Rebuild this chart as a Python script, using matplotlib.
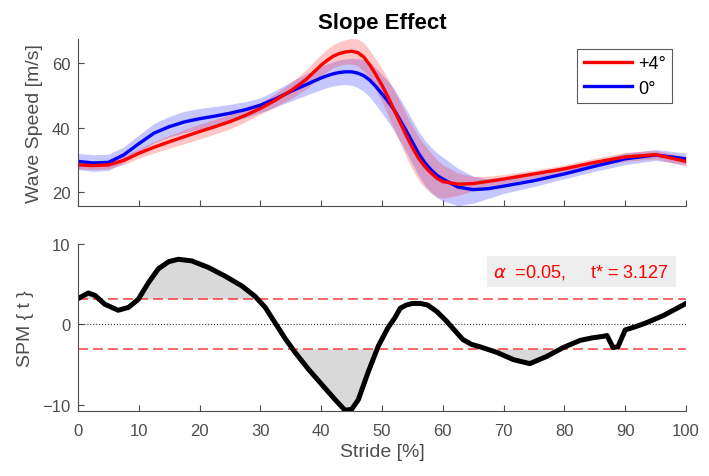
import matplotlib
matplotlib.use("Agg")
import matplotlib.pyplot as plt
import numpy as np

plt.rcParams['font.family'] = ['Liberation Sans', 'DejaVu Sans']

# stride positions (%) for the wave speed curves
stride = [0, 2.5, 5, 7.5, 10, 12.5, 15, 17.5, 20, 22.5, 25, 27.5, 30, 32.5, 35, 37.5,
          40, 41, 42, 43, 44, 45, 46, 47, 48, 49, 50, 51, 52, 53, 54, 55, 56, 57, 58, 59, 60,
          62.5, 65, 67.5, 70, 75, 80, 85, 90, 95, 100]

# +4 deg slope: mean and sd
red_mean = [28.4, 28.2, 28.4, 29.8, 32.0, 33.9, 35.6, 37.2, 38.8, 40.3, 41.9, 43.8, 46.0,
            48.6, 51.5, 55.0,
            59.5, 61.0, 62.3, 63.1, 63.6, 63.8, 63.4, 62.0, 59.5, 56.5, 53.2, 49.5, 45.5,
            41.5, 37.5, 33.8, 30.5, 28.0, 26.0, 24.3, 23.2,
            22.4, 22.6, 23.3, 24.0, 25.6, 27.2, 29.2, 30.9, 31.6, 29.5]
red_sd = [1.3, 1.2, 1.2, 1.3, 1.5, 1.8, 2.0, 2.2, 2.3, 2.3, 2.3, 2.0, 1.8, 2.0, 2.5, 3.0,
          3.4, 3.5, 3.6, 3.7, 3.8, 4.0, 4.2, 4.4, 4.6, 4.8, 5.2, 5.7, 6.1, 6.4, 6.6, 6.8,
          6.8, 6.6, 6.3, 5.8, 5.2,
          3.5, 2.2, 1.6, 1.4, 1.2, 1.2, 1.3, 1.4, 1.3, 1.5]

# 0 deg slope: mean and sd
blue_mean = [29.5, 29.0, 29.2, 31.5, 35.0, 38.3, 40.3, 41.8, 42.8, 43.6, 44.5, 45.6, 47.0,
             49.0, 51.3, 53.4,
             55.5, 56.2, 56.8, 57.2, 57.4, 57.4, 57.0, 56.2, 54.8, 52.8, 50.5, 48.2, 45.5,
             42.3, 39.0, 35.5, 32.0, 29.2, 27.0, 25.2, 24.0,
             21.5, 20.7, 21.0, 21.8, 23.5, 25.6, 28.0, 30.3, 31.5, 30.3]
blue_sd = [2.5, 2.6, 2.5, 2.5, 2.7, 3.0, 3.2, 3.3, 3.2, 3.0, 2.8, 2.5, 2.3, 2.6, 3.0, 3.3,
           3.6, 3.7, 3.8, 3.9, 4.0, 4.2, 4.5, 4.9, 5.3, 5.7, 6.0, 6.3, 6.5, 6.6, 6.7, 6.8,
           6.9, 7.0, 7.0, 7.0, 6.8,
           5.8, 4.2, 3.0, 2.3, 1.8, 1.5, 1.6, 1.8, 1.7, 1.8]

# SPM {t} trajectory
spm_x = [0, 1.7, 2.8, 4.4, 6.6, 8.3, 9.9, 11.6, 13.2, 14.9, 16.5, 18.7, 21.4, 24.2, 26.9,
         29.1, 30.8, 32.4, 34.0, 35.7, 37.9, 40.1, 42.3, 43.9, 45.0, 46.1, 47.7, 49.4, 51.0,
         52.1, 53.0, 54.0, 55.0, 56.3, 57.5, 59.0, 60.6, 62.0, 63.3, 64.7, 66.1, 68.9, 71.6,
         74.3, 77.1, 79.8, 82.6, 84.5, 86.4, 87.0, 88.0, 88.8, 90.0, 91.7, 93.5, 96.3, 100]
spm_t = [3.2, 3.9, 3.6, 2.5, 1.75, 2.1, 3.1, 5.2, 6.9, 7.8, 8.1, 7.9, 7.1, 6.0, 4.8, 3.5,
         2.1, 0.2, -1.7, -3.5, -5.6, -7.5, -9.4, -10.7, -10.6, -9.4, -6.0, -2.7, -0.4, 0.8,
         2.0, 2.4, 2.6, 2.6, 2.4, 1.6, 0.4, -0.8, -1.9, -2.5, -2.8, -3.5, -4.4, -4.9, -4.0,
         -2.9, -2.0, -1.7, -1.5, -1.4, -2.9, -2.8, -0.7, -0.3, 0.2, 1.1, 2.6]
t_crit = 3.127
alpha = 0.05

gray = '#4d4d4d'

fig = plt.figure(figsize=(7.09, 4.77), dpi=100)
ax1 = fig.add_axes([0.110, 0.566, 0.8576, 0.350])
ax2 = fig.add_axes([0.110, 0.1363, 0.8576, 0.350])

x = np.array(stride)
rm, rs = np.array(red_mean), np.array(red_sd)
bm, bs = np.array(blue_mean), np.array(blue_sd)

# blue first, red band drawn over the blue line
ax1.fill_between(x, bm - bs, bm + bs, color='#0000ff', alpha=0.22, lw=0)
ax1.plot(x, bm, color='#0000ff', lw=2.4, label='0°')
ax1.fill_between(x, rm - rs, rm + rs, color='#ff0000', alpha=0.22, lw=0)
ax1.plot(x, rm, color='#ff0000', lw=2.4, label='+4°')

ax1.set_xlim(0, 100)
ax1.set_ylim(15.6, 67.6)
ax1.set_yticks([20, 40, 60])
ax1.set_xticks(np.arange(0, 101, 10))
ax1.set_xticklabels([])
ax1.set_ylabel('Wave Speed [m/s]', fontsize=14, color=gray, labelpad=6)
ax1.set_title('Slope Effect', fontsize=16, fontweight='bold', pad=8)
h, l = ax1.get_legend_handles_labels()
leg = ax1.legend(h[::-1], l[::-1], loc='upper right', bbox_to_anchor=(0.977, 0.94),
                 borderaxespad=0, fontsize=13, frameon=True, fancybox=False,
                 edgecolor='#333333', handlelength=2.7, handletextpad=0.3,
                 labelspacing=0.4, borderpad=0.35)
leg.get_frame().set_linewidth(0.8)

sx, st = np.array(spm_x), np.array(spm_t)
ax2.fill_between(sx, st, t_crit, where=st > t_crit, interpolate=True,
                 color='#d9d9d9', lw=0)
ax2.fill_between(sx, st, -t_crit, where=st < -t_crit, interpolate=True,
                 color='#d9d9d9', lw=0)
ax2.axhline(t_crit, color='#ff2020', ls=(0, (6, 3)), lw=1.2, alpha=0.8)
ax2.axhline(-t_crit, color='#ff2020', ls=(0, (6, 3)), lw=1.2, alpha=0.8)
ax2.axhline(0, color='#333333', ls=':', lw=0.8)
ax2.plot(sx, st, color='black', lw=3.6, solid_capstyle='round', solid_joinstyle='round')

ax2.text(68.3, 6.56, r'$\alpha$  =0.05,     t* = %.3f' % t_crit, color='#ff0000',
         fontsize=13, va='center', ha='left',
         bbox=dict(boxstyle='square,pad=0.35', facecolor='#eeeeee', edgecolor='none'))

ax2.set_xlim(0, 100)
ax2.set_ylim(-10.8, 10)
ax2.set_yticks([-10, 0, 10])
ax2.set_xticks(np.arange(0, 101, 10))
ax2.set_xlabel('Stride [%]', fontsize=14, color=gray, labelpad=3)
ax2.set_ylabel('SPM { t }', fontsize=14, color=gray, labelpad=6)

for ax in (ax1, ax2):
    for s in ('top', 'right'):
        ax.spines[s].set_visible(False)
    for s in ('left', 'bottom'):
        ax.spines[s].set_color(gray)
        ax.spines[s].set_linewidth(0.8)
    ax.tick_params(direction='in', length=4.3, width=0.8, colors=gray, labelsize=12)
    ax.tick_params(axis='x', pad=9)
    ax.tick_params(axis='y', pad=5.5)

fig.savefig('out.png', dpi=100)
